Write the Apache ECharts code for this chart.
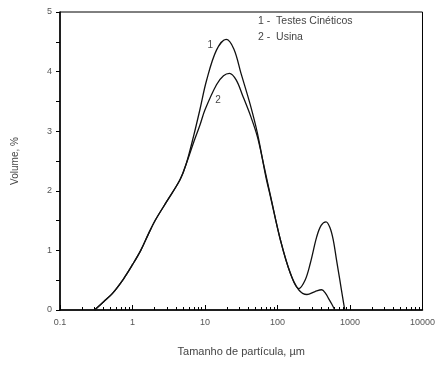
<!DOCTYPE html>
<html>
<head>
<meta charset="utf-8">
<script src="https://cdn.jsdelivr.net/npm/echarts@6/dist/echarts.min.js"></script>
<style>
    html, body { margin: 0; padding: 0; background: #fff; }
    #chart { width: 438px; height: 365px; }
</style>
</head>
<body>
<div id="chart"></div>
<script>
    // curva 1 - Testes Cinéticos (tamanho µm, volume %)
    var sizes1 = [0.30, 0.4, 0.53, 0.75, 1.0, 1.3, 1.68, 2.07, 3.0, 4.5, 5.5, 7, 8.5, 10.5, 14.4, 19.6, 25, 31.4, 42, 53, 69, 80, 110, 150, 196, 240, 283, 348, 400, 467, 530, 589, 650, 725, 790, 848];
    var volume1 = [0, 0.14, 0.28, 0.52, 0.76, 1.0, 1.29, 1.51, 1.83, 2.18, 2.45, 2.93, 3.36, 3.85, 4.36, 4.54, 4.38, 3.97, 3.45, 2.96, 2.24, 1.9, 1.17, 0.62, 0.36, 0.5, 0.78, 1.23, 1.42, 1.48, 1.38, 1.17, 0.85, 0.5, 0.22, 0];
    // curva 2 - Usina
    var sizes2 = [0.30, 0.4, 0.53, 0.75, 1.0, 1.3, 1.68, 2.07, 3.0, 4.5, 5.5, 7, 8.5, 10, 14.4, 18, 21.8, 26.9, 33, 43, 53, 65.5, 80, 110, 150, 196, 255, 330, 407, 460, 503, 560, 617];
    var volume2 = [0, 0.14, 0.28, 0.52, 0.76, 1.0, 1.29, 1.51, 1.83, 2.18, 2.45, 2.82, 3.1, 3.36, 3.78, 3.93, 3.97, 3.86, 3.6, 3.24, 2.9, 2.4, 1.92, 1.17, 0.62, 0.34, 0.26, 0.31, 0.34, 0.28, 0.2, 0.1, 0];
    var legendTexts = ['1 -  Testes Cinéticos', '2 -  Usina'];
    var xMajorTicks = [0.1, 1, 10, 100, 1000, 10000];

    var xMinorTicks = [];
    for (var d = 0; d < xMajorTicks.length - 1; d++) {
        for (var m = 2; m <= 9; m++) {
            xMinorTicks.push(+(xMajorTicks[d] * m).toPrecision(3));
        }
    }

    function pairs(xs, ys) {
        var out = [];
        for (var i = 0; i < xs.length; i++) out.push([xs[i], ys[i]]);
        return out;
    }

    function curveTag(text, coord) {
        return {
            symbol: 'circle', symbolSize: 1, silent: true,
            itemStyle: { color: 'rgba(0,0,0,0)' },
            label: { show: true, position: 'inside', formatter: text, fontFamily: font, fontSize: 10, color: '#444' },
            data: [{ coord: coord }]
        };
    }

    var font = 'Liberation Sans, Arial, sans-serif';
    var chart = echarts.init(document.getElementById('chart'));
    var option = {
        animation: false,
        grid: {
            left: 60, right: 11, top: 12, bottom: 55,
            show: true, borderColor: '#000', borderWidth: 1
        },
        xAxis: [
            {
                type: 'log', logBase: 10, min: 0.1, max: 10000,
                name: 'Tamanho de partícula, µm',
                nameLocation: 'middle', nameGap: 36,
                nameTextStyle: { fontFamily: font, fontSize: 11, color: '#444' },
                axisLine: { show: true, lineStyle: { color: '#000', width: 1.5 } },
                axisTick: { show: true, inside: true, length: 5, customValues: xMajorTicks, lineStyle: { color: '#000' } },
                axisLabel: {
                    customValues: xMajorTicks, margin: 8,
                    fontFamily: font, fontSize: 9, color: '#555',
                    formatter: function (v) { return String(v); }
                },
                splitLine: { show: false }
            },
            {
                type: 'log', logBase: 10, min: 0.1, max: 10000, position: 'bottom',
                axisLine: { show: false },
                axisTick: { show: true, inside: true, length: 3, customValues: xMinorTicks, lineStyle: { color: '#000' } },
                axisLabel: { show: false },
                splitLine: { show: false }
            }
        ],
        yAxis: {
            type: 'value', min: 0, max: 5, interval: 1,
            name: 'Volume, %',
            nameLocation: 'middle', nameGap: 40,
            nameTextStyle: { fontFamily: font, fontSize: 10, color: '#444' },
            axisLine: { show: true, lineStyle: { color: '#000', width: 1.5 } },
            axisTick: { show: true, length: 4, lineStyle: { color: '#000' } },
            minorTick: { show: true, splitNumber: 2, length: 4, lineStyle: { color: '#000' } },
            axisLabel: { margin: 8, fontFamily: font, fontSize: 9, color: '#555' },
            splitLine: { show: false }
        },
        series: [
            {
                name: 'Testes Cinéticos', type: 'line', xAxisIndex: 0,
                data: pairs(sizes1, volume1), smooth: 0.35, showSymbol: false,
                lineStyle: { color: '#111', width: 1.3 },
                markPoint: curveTag('1', [11.8, 4.45])
            },
            {
                name: 'Usina', type: 'line', xAxisIndex: 0,
                data: pairs(sizes2, volume2), smooth: 0.35, showSymbol: false,
                lineStyle: { color: '#111', width: 1.3 },
                markPoint: curveTag('2', [15.1, 3.52])
            }
        ],
        graphic: [
            { type: 'text', left: 258, top: 16, style: { text: legendTexts[0], font: '10.5px ' + font, fill: '#444' } },
            { type: 'text', left: 258, top: 32, style: { text: legendTexts[1], font: '10.5px ' + font, fill: '#444' } }
        ]
    };
    chart.setOption(option);
</script>
</body>
</html>
